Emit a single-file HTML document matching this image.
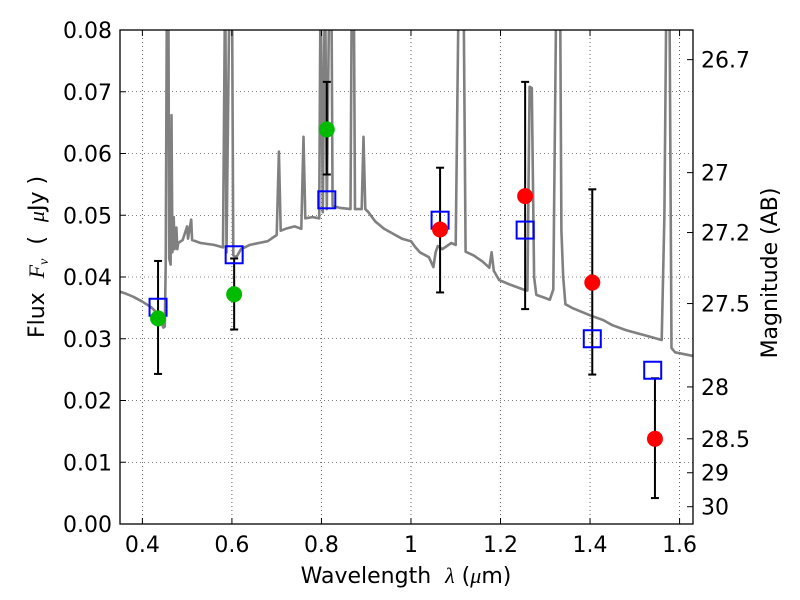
<!DOCTYPE html>
<html><head><meta charset="utf-8"><style>
body{margin:0;background:#fff;}
svg{display:block;font-family:"DejaVu Sans","Liberation Sans",sans-serif;}
text{white-space:pre;}
</style></head><body>
<svg id="chart" width="800" height="600" xmlns="http://www.w3.org/2000/svg">
<rect width="800" height="600" fill="#fff"/>
<defs><clipPath id="plotclip"><rect x="120" y="30" width="573" height="494"/></clipPath></defs>
<g id="grid"></g>
<g id="spec" clip-path="url(#plotclip)"></g>
<g id="marks"></g>
<rect x="120" y="30" width="573" height="494" fill="none" stroke="#000" stroke-width="1.3"/>
<g id="axes"></g>
<text x="406" y="583" font-size="22" text-anchor="middle">Wavelength  <tspan font-style="italic" font-family="Liberation Serif,serif">λ</tspan> (<tspan font-style="italic" font-family="Liberation Serif,serif">μ</tspan>m)</text>
<text transform="translate(44,257) rotate(-90)" font-size="22" text-anchor="middle">Flux  <tspan font-style="italic" font-family="Liberation Serif,serif">F</tspan><tspan font-style="italic" font-size="14" dy="4" font-family="Liberation Serif,serif">ν</tspan><tspan dy="-4">  (  </tspan><tspan font-style="italic" font-family="Liberation Serif,serif">μ</tspan>Jy )</text>
<text transform="translate(777,273) rotate(-90)" font-size="22" text-anchor="middle">Magnitude (AB)</text>
</svg>
<script>
const xTicks=[0.4,0.6,0.8,1.0,1.2,1.4,1.6];
const xTickLabels=["0.4","0.6","0.8","1","1.2","1.4","1.6"];
const yTicks=[0,0.01,0.02,0.03,0.04,0.05,0.06,0.07,0.08];
const yTickLabels=["0.00","0.01","0.02","0.03","0.04","0.05","0.06","0.07","0.08"];
const magLabels=["26.7","27","27.2","27.5","28","28.5","29","30"];
const magFlux=[0.0752,0.0569,0.0472,0.0357,0.0222,0.0138,0.0083,0.0028];
const bandWl=[0.435,0.605,0.812,1.065,1.255,1.405,1.545];
const pointColor=["#00bb00","#00bb00","#00bb00","#ff0000","#ff0000","#ff0000","#ff0000"];
const obsFlux=[0.0333,0.0372,0.0639,0.0477,0.0531,0.0391,0.0138];
const errLow=[0.0243,0.0315,0.0566,0.0375,0.0348,0.0242,0.0042];
const errHigh=[0.0426,0.0430,0.0716,0.0577,0.0716,0.0542,0.0236];
const modelWl=[0.435,0.605,0.812,1.065,1.255,1.405,1.54];
const modelFlux=[0.0351,0.0436,0.0525,0.0492,0.0476,0.0300,0.0249];
const specWl=[0.35,0.36,0.38,0.40,0.42,0.435,0.447,0.450,0.452,0.455,0.458,0.460,0.463,0.465,0.467,0.47,0.472,0.476,0.478,0.48,0.49,0.50,0.502,0.509,0.511,0.53,0.56,0.58,0.585,0.588,0.595,0.60,0.603,0.61,0.62,0.64,0.66,0.68,0.70,0.705,0.709,0.72,0.74,0.755,0.76,0.764,0.78,0.795,0.798,0.803,0.808,0.812,0.818,0.822,0.825,0.84,0.865,0.868,0.872,0.875,0.89,0.894,0.898,0.905,0.92,0.94,0.96,0.98,1.0,1.01,1.02,1.04,1.05,1.055,1.06,1.07,1.09,1.10,1.107,1.117,1.122,1.14,1.16,1.175,1.18,1.185,1.197,1.22,1.25,1.26,1.265,1.27,1.275,1.28,1.30,1.31,1.318,1.325,1.333,1.336,1.34,1.345,1.36,1.40,1.43,1.45,1.48,1.52,1.56,1.566,1.571,1.577,1.582,1.59,1.63];
const specFlux=[0.0376,0.0374,0.0368,0.0360,0.0351,0.0340,0.0318,0.0320,0.042,0.09,0.09,0.043,0.042,0.0662,0.044,0.0497,0.0445,0.048,0.0445,0.0455,0.046,0.0482,0.0462,0.0493,0.046,0.0455,0.0452,0.0448,0.09,0.044,0.09,0.09,0.0435,0.0432,0.0445,0.0452,0.0455,0.0458,0.0468,0.0603,0.0475,0.0478,0.0482,0.0478,0.0627,0.0495,0.0497,0.0495,0.09,0.0505,0.09,0.051,0.09,0.09,0.0515,0.0512,0.051,0.09,0.09,0.051,0.051,0.0627,0.051,0.0505,0.049,0.0478,0.047,0.0462,0.0458,0.0448,0.044,0.0432,0.0416,0.044,0.045,0.0445,0.0455,0.0452,0.09,0.09,0.0441,0.0435,0.0425,0.0415,0.044,0.041,0.0395,0.0388,0.038,0.0378,0.0708,0.0706,0.040,0.0371,0.0366,0.0363,0.038,0.09,0.09,0.0475,0.040,0.0356,0.0350,0.0338,0.0330,0.0322,0.0314,0.0306,0.0298,0.05,0.09,0.09,0.0285,0.0278,0.0272];
const NS="http://www.w3.org/2000/svg";
const X0=120,X1=693,Y0=524,Y1=30,XMIN=0.35,XMAX=1.63,YMIN=0,YMAX=0.08;
function sx(v){return X0+(v-XMIN)/(XMAX-XMIN)*(X1-X0);}
function sy(v){return Y0-(v-YMIN)/(YMAX-YMIN)*(Y0-Y1);}
function mk(tag,attrs,parent){const e=document.createElementNS(NS,tag);for(const k in attrs)e.setAttribute(k,attrs[k]);parent.appendChild(e);return e;}
const grid=document.getElementById('grid'),axes=document.getElementById('axes'),spec=document.getElementById('spec'),marks=document.getElementById('marks');
xTicks.forEach((t,i)=>{const x=sx(t);
 const g=mk('line',{x1:x,x2:x,y1:Y1,y2:Y0,stroke:'#000','stroke-width':0.6,'stroke-dasharray':'1,3'},grid);
 
 
 mk('line',{x1:x,x2:x,y1:Y0,y2:Y0-6,stroke:'#000'},axes);
 mk('line',{x1:x,x2:x,y1:Y1,y2:Y1+6,stroke:'#000'},axes);
 const l=mk('text',{x:x,y:Y0+28,'font-size':22,'text-anchor':'middle'},axes);l.textContent=xTickLabels[i];
 
 });
yTicks.forEach((t,i)=>{const y=sy(t);
 const g=mk('line',{x1:X0,x2:X1,y1:y,y2:y,stroke:'#000','stroke-width':0.6,'stroke-dasharray':'1,3'},grid);
 
 
 mk('line',{x1:X0,x2:X0+6,y1:y,y2:y,stroke:'#000'},axes);
 const l=mk('text',{x:X0-8,y:y+8,'font-size':22,'text-anchor':'end'},axes);l.textContent=yTickLabels[i];
 
 });
magLabels.forEach((m,i)=>{const y=sy(magFlux[i]);
 mk('line',{x1:X1-6,x2:X1,y1:y,y2:y,stroke:'#000'},axes);
 const l=mk('text',{x:X1+8,y:y+8,'font-size':22},axes);l.textContent=m;
 
 });
const sp=mk('polyline',{points:specWl.map((w,i)=>sx(w).toFixed(1)+','+sy(specFlux[i]).toFixed(1)).join(' '),fill:'none',stroke:'#808080','stroke-width':2.6,'stroke-linejoin':'round'},spec);


bandWl.forEach((w,i)=>{const x=sx(w);
 const e=mk('g',{},marks);
 
 
 mk('line',{x1:x,x2:x,y1:sy(errLow[i]),y2:sy(errHigh[i]),stroke:'#000','stroke-width':2},e);
 mk('line',{x1:x-4,x2:x+4,y1:sy(errLow[i]),y2:sy(errLow[i]),stroke:'#000','stroke-width':2},e);
 mk('line',{x1:x-4,x2:x+4,y1:sy(errHigh[i]),y2:sy(errHigh[i]),stroke:'#000','stroke-width':2},e);});
modelWl.forEach((w,i)=>{const s=mk('rect',{x:sx(w)-8.5,y:sy(modelFlux[i])-8.5,width:17,height:17,fill:'none',stroke:'#0000ff','stroke-width':2},marks);
 
 });
bandWl.forEach((w,i)=>{const c=mk('circle',{cx:sx(w),cy:sy(obsFlux[i]),r:8,fill:pointColor[i]},marks);
 
 });
</script>
</body></html>
